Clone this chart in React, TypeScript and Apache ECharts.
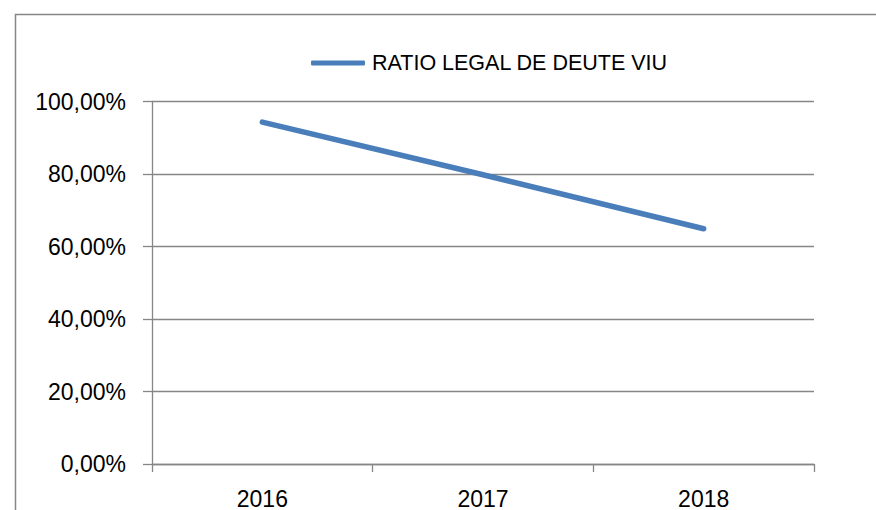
import React, { useEffect, useRef } from "react";
import * as echarts from "echarts";

const categories = ["2016", "2017", "2018"];
const seriesName = "RATIO LEGAL DE DEUTE VIU";
const ratioValues = [94.3, 79.8, 64.9];
const yTicks = { min: 0, max: 100, interval: 20 };

export default function App() {
  const ref = useRef<HTMLDivElement>(null);
  useEffect(() => {
    document.body.style.margin = "0";
    const chart = echarts.init(ref.current!, null, { renderer: "svg" });
    const font = "'Liberation Sans', Arial, sans-serif";
    const gray = "#868686";
    chart.setOption({
      animation: false,
      backgroundColor: "#ffffff",
      graphic: [
        {
          type: "rect",
          left: 13,
          top: 12,
          shape: { x: 0, y: 0, width: 900, height: 600 },
          style: { fill: "none", stroke: gray, lineWidth: 1.5 },
          silent: true,
        },
      ],
      legend: {
        left: 306,
        top: 47,
        icon: "roundRect",
        itemWidth: 54,
        itemHeight: 5,
        itemStyle: { color: "#4a7ebb", borderWidth: 0 },
        textStyle: { fontFamily: font, fontSize: 21.5, color: "#000", padding: [0, 0, 0, 2] },
        data: [seriesName],
      },
      grid: { left: 152, top: 101.5, right: 62, bottom: 46 },
      xAxis: {
        type: "category",
        data: categories,
        boundaryGap: true,
        axisLine: { lineStyle: { color: gray, width: 1.3 } },
        axisTick: { show: true, length: 8, lineStyle: { color: gray, width: 1.3 } },
        axisLabel: { fontFamily: font, fontSize: 23, color: "#000", margin: 23 },
      },
      yAxis: {
        type: "value",
        min: yTicks.min,
        max: yTicks.max,
        interval: yTicks.interval,
        axisLine: { show: true, lineStyle: { color: gray, width: 1.3 } },
        axisTick: { show: true, length: 9, lineStyle: { color: gray, width: 1.3 } },
        splitLine: { lineStyle: { color: gray, width: 1.3 } },
        axisLabel: {
          fontFamily: font,
          fontSize: 23,
          color: "#000",
          margin: 26,
          formatter: (v: number) => v.toFixed(2).replace(".", ",") + "%",
        },
      },
      series: [
        {
          name: seriesName,
          type: "line",
          data: ratioValues,
          symbol: "none",
          itemStyle: { color: "#4a7ebb" },
          lineStyle: { color: "#4a7ebb", width: 5.5, cap: "round", join: "round" },
        },
      ],
    });
    return () => chart.dispose();
  }, []);
  return (
    <div
      ref={ref}
      style={{ position: "fixed", left: 0, top: 0, width: 876, height: 510 }}
    />
  );
}
